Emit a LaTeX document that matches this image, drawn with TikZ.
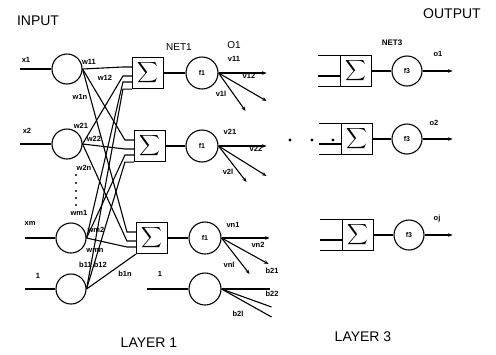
\documentclass[tikz,border=0pt]{standalone}
\usepackage{amsmath}
\usepackage{fontspec}
\setmainfont{Liberation Sans}
\usetikzlibrary{calc, positioning}
\usetikzlibrary{arrows.meta}

\begin{document}
\begin{tikzpicture}[x=1pt, y=-1pt, line width=1.1pt,
  neuron/.style={draw, circle, minimum size=30pt, inner sep=0pt, font=\fontsize{7}{8}\selectfont\bfseries},
  sumbox/.style={draw, minimum width=31pt, minimum height=31pt, inner sep=0pt, font=\fontsize{15}{15}\selectfont},
  wlabel/.style={font=\fontsize{7.5}{8}\selectfont\bfseries, inner sep=0pt},
  title/.style={font=\fontsize{14}{16}\selectfont, inner sep=0pt},
  outarrow/.style={-{Stealth[length=4.5pt, width=3.5pt]}},
  ladder/.style={line width=1.6pt}]
\useasboundingbox (0,0) rectangle (496,354);
\def\stub{9}
\def\fan{48}

\node[title] (inputtitle) at (38,21) {INPUT};
\node[title] (outputtitle) at (452,14) {OUTPUT};
\node[title] (layer1) at (149,343) {LAYER 1};
\node[title] (layer3) at (363,337) {LAYER 3};

% input layer
\node[neuron] (in1) at (67,69) {};
\node[neuron] (in2) at (67,144) {};
\node[neuron] (inm) at (71,238) {};
\node[neuron] (inb) at (71,289) {};

\coordinate (x1) at (20,69);
\coordinate (x2) at (20,144);
\coordinate (xm) at (25,238);
\coordinate (xb) at (25,289);
\draw (x1) -- (in1);
\draw (x2) -- (in2);
\draw (xm) -- (inm);
\draw (xb) -- (inb);

\node[wlabel] at (26,60) {x1};
\node[wlabel] at (27,131) {x2};
\node[wlabel] at (30,223) {xm};
\node[wlabel] at (38,276) {1};

\foreach \y in {175,183,191,198,205}
  \fill (76,\y) circle (1.2pt);

% summing units of layer 1
\node[sumbox] (s1) at (148,73) {$\displaystyle\sum$};
\node[sumbox] (s2) at (150,146) {$\displaystyle\sum$};
\node[sumbox] (s3) at (152,238) {$\displaystyle\sum$};

\foreach \b in {s1,s2,s3} {
  \foreach \i/\dy in {in1/-6, in2/3, inm/9} {
    \draw (\i.east) -- ($(\b.west)+(-\stub,\dy)$) -- ($(\b.west)+(0,\dy)$);
  }
}
\draw (inb.east) -- ($(s1.south west)+(-\stub,0)$) -- (s1.south west);
\draw (inb.east) -- ($(s2.south west)+(-\stub,0)$) -- (s2.south west);
\draw (inb.east) -- (s3.south west);

\node[wlabel] at (89,62) {w11};
\node[wlabel] at (105,78) {w12};
\node[wlabel] at (80,97) {w1n};
\node[wlabel] at (81,126) {w21};
\node[wlabel] at (94,139) {w22};
\node[wlabel] at (84,168) {w2n};
\node[wlabel] at (79,213) {wm1};
\node[wlabel] at (96,230) {wm2};
\node[wlabel] at (95,250) {wmn};
\node[wlabel] at (93,265) {b11 b12};
\node[wlabel] at (125,274) {b1n};

% activation units of layer 1
\node[neuron, minimum size=32pt] (f11) at (202,73) {f1};
\node[neuron, minimum size=32pt] (f12) at (202,146) {f1};
\node[neuron, minimum size=32pt] (f13) at (205,238) {f1};
\node[neuron, minimum size=32pt] (fb) at (205,289) {};
\draw (s1) -- (f11);
\draw (s2) -- (f12);
\draw (s3) -- (f13);
\coordinate (xb2) at (147,289);
\draw (xb2) -- (fb);

\node[font=\fontsize{10}{12}\selectfont, inner sep=0pt] (net1) at (179,47) {NET1};
\node[font=\fontsize{10}{12}\selectfont, inner sep=0pt] (o1) at (234,45) {O1};
\node[wlabel] at (160,274) {1};

\foreach \f/\ax/\ay/\bx/\by in {f11/48/28/27/38, f12/48/30/28/36, f13/47/26/28/36} {
  \draw[outarrow] (\f.east) -- ++(\fan,0) coordinate (\f-a);
  \draw[outarrow] (\f.east) -- ++(\ax,\ay) coordinate (\f-b);
  \draw[outarrow] (\f.east) -- ++(\bx,\by) coordinate (\f-c);
}
\draw (fb.east) -- ++(\fan,0) coordinate (fb-a);
\draw (fb.east) -- ++(50,18) coordinate (fb-b);
\draw (fb.east) -- ++(50,28) coordinate (fb-c);

\node[wlabel] at (234,59) {v11};
\node[wlabel] at (249,76) {v12};
\node[wlabel] at (221,94) {v1l};
\node[wlabel] at (230,132) {v21};
\node[wlabel] at (256,149) {v22};
\node[wlabel] at (228,172) {v2l};
\node[wlabel] at (233,225) {vn1};
\node[wlabel] at (258,245) {vn2};
\node[wlabel] at (229,265) {vnl};
\node[wlabel] at (272,271) {b21};
\node[wlabel] at (272,294) {b22};
\node[wlabel] at (238,314) {b2l};

% layer 3
\foreach \x in {290,312,333}
  \fill (\x,140) circle (1.7pt);

\node[sumbox] (t1) at (356,71) {$\displaystyle\sum$};
\node[sumbox] (t2) at (357,139) {$\displaystyle\sum$};
\node[sumbox] (t3) at (358,235) {$\displaystyle\sum$};
\foreach \t in {t1,t2,t3} {
  \foreach \dy in {-15.5,5,15.5}
    \draw[ladder] ($(\t.west)+(0,\dy)$) -- ++(-22,0);
}

\node[neuron] (f31) at (407,71) {f3};
\node[neuron] (f32) at (407,139) {f3};
\node[neuron] (f33) at (409,235) {f3};
\draw (t1) -- (f31);
\draw (t2) -- (f32);
\draw (t3) -- (f33);
\draw[outarrow] (f31.east) -- ++(30,0) coordinate (out1);
\draw[outarrow] (f32.east) -- ++(30,0) coordinate (out2);
\draw[outarrow] (f33.east) -- ++(28,0) coordinate (out3);

\node[font=\fontsize{8}{10}\selectfont\bfseries, inner sep=0pt] (net3) at (392,43) {NET3};
\node[wlabel] at (438,54) {o1};
\node[wlabel] at (434,123) {o2};
\node[wlabel] at (437,219) {oj};

\end{tikzpicture}
\end{document}
